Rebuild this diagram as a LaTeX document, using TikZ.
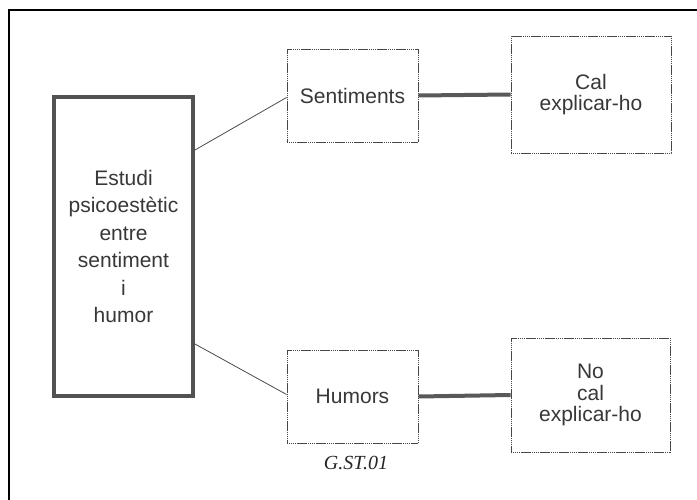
\documentclass[tikz,border=0pt]{standalone}
\usepackage{fontspec}
\setmainfont{Liberation Sans}
\newfontfamily\capfont{Liberation Serif}
\begin{document}
\begin{tikzpicture}[x=1pt,y=-1pt,
  txt/.style={text=black!78,font=\fontsize{21}{27.5}\selectfont,align=center},
  mainbox/.style={txt,draw=black!68,line width=3.6pt,inner sep=0pt},
  smallbox/.style={txt,draw=black!72,line width=0.9pt,dash pattern=on 1.4pt off 0.5pt,inner sep=0pt,font=\fontsize{21}{21.5}\selectfont},
  thickline/.style={draw=black!65,line width=4pt},
  thinline/.style={draw=black!70,line width=0.8pt},
  frameline/.style={draw=black,line width=2pt}]
\useasboundingbox (0,0) rectangle (697,500);
\fill[white] (0,0) rectangle (697,500);
\coordinate (fa) at (697,10);
\coordinate (fb) at (9,10);
\coordinate (fc) at (9,500);
\draw[frameline] (fa) -- (fb) -- (fc);
\node[mainbox,minimum width=139.5pt,minimum height=299.5pt] (L) at (123.5,246.5)
  {Estudi\\psicoestètic\\entre\\sentiment\\i\\humor};
\node[smallbox,minimum width=131pt,minimum height=93pt] (S) at (352.5,95.5) {Sentiments};
\node[smallbox,minimum width=160pt,minimum height=117pt] (C) at (591,94.5) {Cal\\explicar-ho};
\node[smallbox,minimum width=131pt,minimum height=93pt] (H) at (352.5,396.5) {Humors};
\node[smallbox,minimum width=159pt,minimum height=114pt] (N) at (590.5,395) {No\\cal\\explicar-ho};
\draw[thickline] (S.east) -- (C.west);
\draw[thickline] (H.east) -- (N.west);
\draw[thinline] ([yshift=-55pt]L.north east) -- ([yshift=-2pt]S.west);
\draw[thinline] ([yshift=54pt]L.south east) -- ([yshift=2pt]H.west);
\node[text=black!85,font=\capfont\itshape\fontsize{20}{24}\selectfont] (G) at (356,463) {G.ST.01};
\end{tikzpicture}
\end{document}
